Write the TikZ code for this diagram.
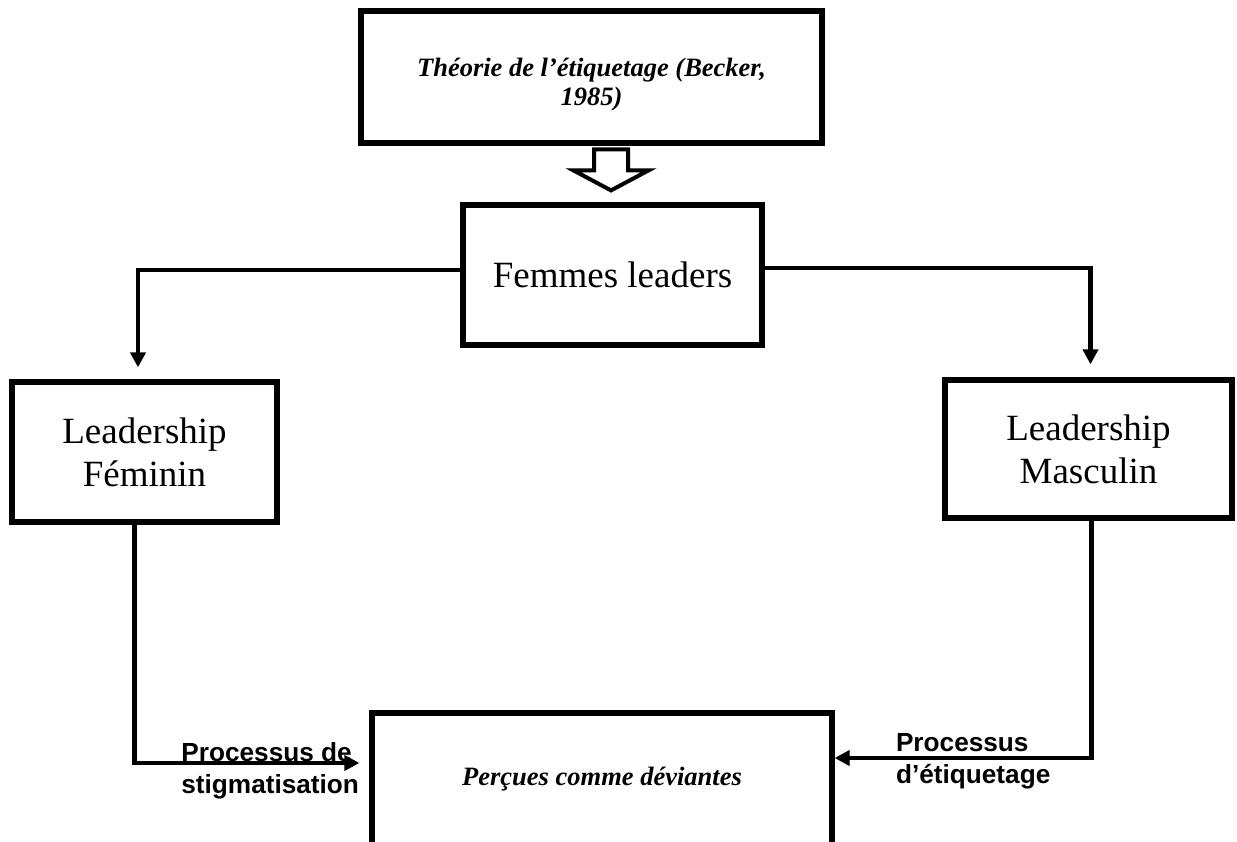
\documentclass[tikz,border=0pt]{standalone}
\usepackage{fontspec}
\setmainfont{Liberation Serif}
\setsansfont{Liberation Sans}
\usetikzlibrary{arrows.meta, positioning, calc}

\begin{document}
\begin{tikzpicture}[
    x=0.5pt, y=-0.5pt,
    box/.style={draw, line width=2.6pt, inner sep=0pt, align=center, font=\fontsize{18.5}{21.5}\selectfont},
    italbox/.style={box, font=\fontsize{13.25}{14.5}\selectfont\bfseries\itshape},
    arrow/.style={-{Triangle[length=7.5pt, width=7.5pt]}, line width=2.3pt},
    hollow/.style={draw, line width=2pt, fill=white},
    procname/.style={align=left, inner sep=0pt, font=\fontsize{13.1}{16}\selectfont\sffamily\bfseries}
]
\useasboundingbox (0,0) rectangle (1237,841);

\node[italbox, minimum width=230.5pt, minimum height=66pt] (theorie) at (591.5,77) {\rule{0pt}{17pt}Théorie de l’étiquetage (Becker,\\1985)};
\node[box, minimum width=149.5pt, minimum height=70pt] (femmes) at (612.5,275) {Femmes leaders};
\node[box, minimum width=132.5pt, minimum height=70pt] (feminin) at (144.5,452) {Leadership\\Féminin};
\node[box, minimum width=143.5pt, minimum height=69pt] (masculin) at (1088.5,449) {Leadership\\Masculin};
\node[italbox, minimum width=230pt, minimum height=66pt] (deviantes) at (602,779) {Perçues comme déviantes};

% Process labels
\node[procname, left=5pt of deviantes.west, yshift=4pt] (stigma) {Processus de\\stigmatisation};
\node[procname, right=30.5pt of deviantes.east, yshift=9pt] (etiquet) {Processus\\d’étiquetage};

% Hollow arrow
\coordinate (tip) at ($(femmes.north)+(-1.5,-12)$);
\draw[hollow] (tip) -- ++(-37.5,-20) -- ++(20.5,0) -- ++(0,-21) -- ++(34,0) -- ++(0,21) -- ++(20.5,0) -- cycle;

% Arrows
\draw[arrow, shorten >=6pt] ([yshift=2.5pt]femmes.west) -| ([xshift=-3.25pt]feminin.north);
\draw[arrow, shorten >=6.5pt] ([yshift=3.5pt]femmes.east) -| ([xshift=1pt]masculin.north);
\draw[arrow, shorten >=5pt] ([xshift=-5pt]feminin.south) |- ([yshift=8pt]deviantes.west);
\draw[arrow] ([xshift=1.5pt]masculin.south) |- ([yshift=10.5pt]deviantes.east);

\end{tikzpicture}
\end{document}
